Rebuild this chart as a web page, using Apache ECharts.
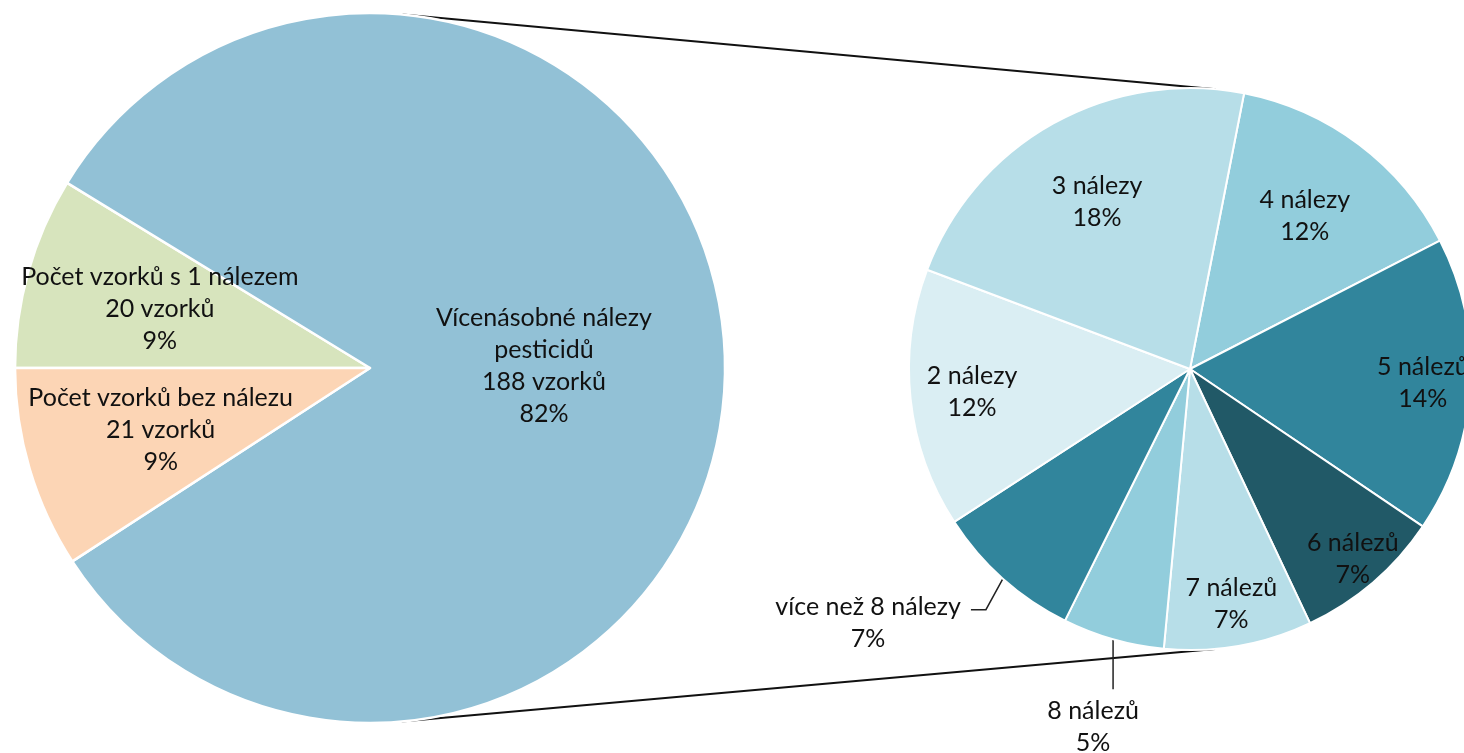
<!DOCTYPE html>
<html>
<head>
<meta charset="utf-8">
<style>
  html, body { margin: 0; padding: 0; background: #fff; }
  #chart { width: 1464px; height: 753px; }
</style>
<script src="https://cdn.jsdelivr.net/npm/echarts@6/dist/echarts.min.js"></script>
</head>
<body>
<div id="chart"></div>
<script>
// hlavni kolac - pocty vzorku
const mainNames = ['Počet vzorků s 1 nálezem', 'Vícenásobné nálezy\npesticidů', 'Počet vzorků bez nálezu'];
const mainValues = [20, 188, 21];

// rozpad vicenasobnych nalezu (pocty vzorku)
const detailNames = ['4 nálezy', '5 nálezů', '6 nálezů', '7 nálezů', '8 nálezů', 'více než 8 nálezy', '2 nálezy', '3 nálezy'];
const detailValues = [27, 32, 16, 16, 11, 16, 28, 42];

// vzhled
const mainColors = ['#d7e4bd', '#92c1d6', '#fcd5b5'];
const detailColors = ['#92cddc', '#31859c', '#215967', '#b7dee8', '#92cddc', '#31859c', '#daeef3', '#b7dee8'];
const mainLabelR = [0.615, 0.49, 0.615];
const detailLabelR = [0.68, 0.83, 0.89, 0.85, 0, 0, 0.78, 0.68];

const L = { cx: 370, cy: 368, r: 355 };
const R = { cx: 1190, cy: 369, r: 281 };

const total = mainValues.reduce((a, b) => a + b, 0);
const pct = v => Math.round(v / total * 100) + '%';

const textStyle = {
  fontFamily: 'Lato, "Open Sans", sans-serif',
  fontSize: 25,
  lineHeight: 32,
  color: '#111'
};

// posun popisku v radialnim smeru
function radial(p, g, f) {
  const rc = p.labelRect;
  const x = rc.x + rc.width / 2, y = rc.y + rc.height / 2;
  const vx = x - g.cx, vy = y - g.cy;
  const d = Math.hypot(vx, vy) || 1;
  const k = f * g.r / d - 1;
  return { dx: vx * k, dy: vy * k };
}

// vnejsi tecny mezi kolaci
function tangents() {
  const dx = R.cx - L.cx, dy = R.cy - L.cy, d = Math.hypot(dx, dy);
  const ux = dx / d, uy = dy / d, vx = -uy, vy = ux;
  const a = (L.r - R.r) / d, b = Math.sqrt(1 - a * a);
  return [-1, 1].map(sg => {
    const nx = a * ux + sg * b * vx, ny = a * uy + sg * b * vy;
    return {
      type: 'line', z: 0, silent: true,
      shape: { x1: L.cx + L.r * nx, y1: L.cy + L.r * ny, x2: R.cx + R.r * nx, y2: R.cy + R.r * ny },
      style: { stroke: '#111', lineWidth: 2 }
    };
  });
}

const mainData = mainNames.map((n, i) => ({
  name: n, value: mainValues[i], itemStyle: { color: mainColors[i] }
}));

const detailData = detailNames.map((n, i) => {
  const item = { name: n, value: detailValues[i], itemStyle: { color: detailColors[i] } };
  if (i === 4 || i === 5) {
    item.label = { position: 'outside' };
    item.labelLine = { show: true, length: 30, length2: 15 };
  }
  return item;
});

const chart = echarts.init(document.getElementById('chart'));
chart.setOption({
  animation: false,
  backgroundColor: '#fff',
  graphic: tangents(),
  series: [
    {
      type: 'pie',
      silent: true,
      center: [L.cx, L.cy],
      radius: L.r,
      startAngle: 180,
      clockwise: true,
      avoidLabelOverlap: false,
      itemStyle: { borderColor: '#fff', borderWidth: 2.5 },
      label: Object.assign({
        position: 'inside',
        formatter: p => p.name + '\n' + p.value + ' vzorků\n' + pct(p.value)
      }, textStyle),
      labelLine: { show: false },
      labelLayout: p => radial(p, L, mainLabelR[p.dataIndex]),
      data: mainData
    },
    {
      type: 'pie',
      silent: true,
      center: [R.cx, R.cy],
      radius: R.r,
      startAngle: 78.9,
      clockwise: true,
      avoidLabelOverlap: false,
      itemStyle: { borderColor: '#fff', borderWidth: 2 },
      label: Object.assign({
        position: 'inside',
        formatter: p => p.name + '\n' + pct(p.value)
      }, textStyle),
      labelLine: { show: false, lineStyle: { color: '#222', width: 1.5 } },
      labelLayout: p => {
        const rc = p.labelRect;
        const pts = p.labelLinePoints;
        if (p.dataIndex === 4 && pts) {
          const s = pts[0];
          const e = [s[0], s[1] + 50];
          return {
            x: s[0] - 20, y: e[1] + 6, align: 'center', verticalAlign: 'top',
            labelLinePoints: [s, e]
          };
        }
        if (p.dataIndex === 5 && pts) {
          const s = pts[0];
          const m = [s[0] - 17, s[1] + 31];
          const e = [m[0] - 15, m[1]];
          return {
            x: e[0] - 10 - rc.width / 2, y: e[1] - 19, align: 'center', verticalAlign: 'top',
            labelLinePoints: [s, m, e]
          };
        }
        return radial(p, R, detailLabelR[p.dataIndex]);
      },
      data: detailData
    }
  ]
});
</script>
</body>
</html>
